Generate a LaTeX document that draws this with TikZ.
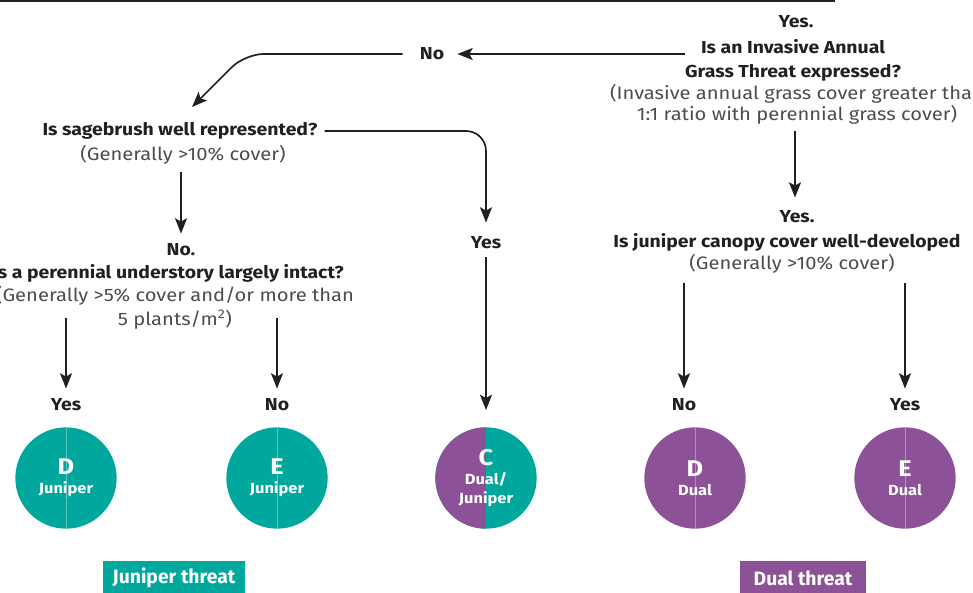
\documentclass[tikz,border=0pt]{standalone}
\usepackage{fontspec}
\setmainfont{Fira Sans}
\newfontfamily\wideb[FakeStretch=1.12]{Fira Sans}
\usetikzlibrary{arrows.meta,calc}
\definecolor{tealc}{HTML}{00A79D}
\definecolor{purpc}{HTML}{8C5196}
\definecolor{ink}{HTML}{231F20}
\definecolor{subc}{HTML}{4D4D4D}
\begin{document}
\begin{tikzpicture}[x=0.75pt,y=-0.75pt,
  q/.style={font=\wideb\bfseries\fontsize{13}{18}\selectfont, text=ink, inner sep=0pt, align=center},
  p/.style={font=\wideb\fontsize{13.5}{16}\selectfont, text=subc, inner sep=0pt, align=center},
  arr/.style={draw=ink, line width=1.25pt, -{Stealth[length=11.5pt,width=9pt,inset=2.5pt]}},
  disc/.style={circle, minimum size=76pt, inner sep=0pt, text=white, align=center,
    font=\wideb\bfseries\fontsize{11}{14}\selectfont},
  midline/.style={path picture={\draw[white, opacity=0.35, line width=0.6pt]
    (path picture bounding box.north) -- (path picture bounding box.south);}},
  tag/.style={inner sep=0pt, minimum height=25.5pt, text=white,
    font=\bfseries\fontsize{14.5}{16}\selectfont}
]
\useasboundingbox (0,0) rectangle (973,592);
\clip (0,0) rectangle (973,592);
% top rule
\draw[line width=1.5pt, ink] (0,1.5) -- (835,1.5);

% top question
\node[q] (yes1) at (796,22) {Yes.};
\node[q] (q1) at (793,60) {Is an Invasive Annual\\Grass Threat expressed?};
\node[p, font=\wideb\fontsize{13.5}{15.75}\selectfont] (p1) at (797,104.5)
  {(Invasive annual grass cover greater than\\1:1 ratio with perennial grass cover)};
\node[q] (no1) at (432,54) {No};

% sagebrush
\node[q] (q2) at (180,131) {Is sagebrush well represented?};
\node[p] (p2) at (183,155) {(Generally >10\% cover)};
\node[q] (no2) at (181,250) {No.};
\node[q] (q3) at (168,273) {Is a perennial understory largely intact?};
\node[p, font=\wideb\fontsize{13.5}{18}\selectfont] (p3) at (175,308)
  {(Generally >5\% cover and/or more than\\5 plants/m\textsuperscript{2})};
\node[q] (yes3) at (66,405) {Yes};
\node[q] (no3) at (277,405) {No};
\node[q] (yes2) at (486,243) {Yes};

% juniper
\node[q] (yes4) at (797,217) {Yes.};
\node[q] (q4) at (787,242) {Is juniper canopy cover well-developed};
\node[p] (p4) at (792,264) {(Generally >10\% cover)};
\node[q] (no4) at (684,405) {No};
\node[q] (yes5) at (905,405) {Yes};

% discs
\node[disc, fill=tealc, midline] (dJ) at (66,478) {{\fontsize{17}{16}\selectfont D}\\Juniper};
\node[disc, fill=tealc, midline] (eJ) at (277,478) {{\fontsize{17}{16}\selectfont E}\\Juniper};
\node[disc, fill=tealc, path picture={\fill[purpc] (path picture bounding box.south west) rectangle (path picture bounding box.north);}]
  (cD) at (486,478) {{\fontsize{17}{16}\selectfont C}\\Dual/\\Juniper};
\node[disc, fill=purpc, midline] (dD) at (695,478) {{\fontsize{17}{16}\selectfont D}\\Dual};
\node[disc, fill=purpc, midline] (eD) at (905,478) {{\fontsize{17}{16}\selectfont E}\\Dual};

% tags
\node[tag, fill=tealc, minimum width=106.5pt] (jt) at (174,578) {Juniper threat};
\node[tag, fill=purpc, minimum width=94.5pt] (dt) at (803,578) {Dual threat};

% connectors
\coordinate (a1s) at (685,54);
\draw[arr] (a1s) -- ($(no1.east)+(13,0)$);
\coordinate (a2c) at (245,54);
\coordinate (a2e) at (192,107);
\draw[arr, rounded corners=14] ($(no1.west)+(-17,0)$) -- (a2c) -- (a2e);
\draw[arr, rounded corners=15] ($(q2.east)+(7,0)$) -- (q2.east -| yes2) -- ($(yes2.north)+(0,-14)$);
\draw[arr] ($(p2.south -| no2)+(0,7)$) -- ($(no2.north)+(0,-10)$);
\coordinate (s5) at (66,318);
\coordinate (s6) at (277,318);
\draw[arr] (s5) -- ($(yes3.north)+(0,-10)$);
\draw[arr] (s6) -- ($(no3.north)+(0,-10)$);
\draw[arr] ($(yes2.south)+(0,8)$) -- ($(cD.north)+(0,-17)$);
\draw[arr] ($(p1.south -| yes4)+(-2,6)$) -- ($(yes4.north)+(-2,-13)$);
\coordinate (s9) at (684,283);
\coordinate (s10) at (905,283);
\draw[arr] (s9) -- ($(no4.north)+(0,-10)$);
\draw[arr] (s10) -- ($(yes5.north)+(0,-10)$);
\end{tikzpicture}
\end{document}
